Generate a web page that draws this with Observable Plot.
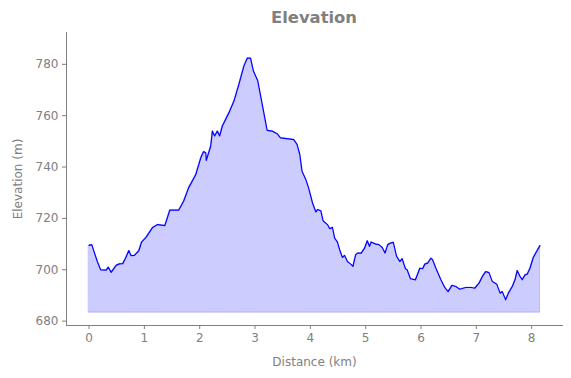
<!DOCTYPE html>
<html><head><meta charset="utf-8">
<script src="https://cdn.jsdelivr.net/npm/d3@7"></script>
<script src="https://cdn.jsdelivr.net/npm/@observablehq/plot@0.6"></script>
<style>
body{margin:0;background:#fff;}
#wrap{position:relative;width:571px;height:378px;font-family:"DejaVu Sans",sans-serif;}
#title{position:absolute;z-index:2;left:66px;width:496px;top:10px;line-height:16px;text-align:center;font-weight:bold;font-size:16.4px;color:#808080;}
</style></head><body><div id="wrap"><div id="title">Elevation</div></div>
<script>
const distanceKm = [0.00,0.05,0.10,0.15,0.21,0.31,0.35,0.40,0.49,0.55,0.61,0.66,0.72,0.76,0.82,0.90,0.95,1.03,1.15,1.24,1.37,1.46,1.62,1.71,1.80,1.93,2.02,2.07,2.11,2.12,2.20,2.23,2.27,2.32,2.36,2.41,2.53,2.62,2.71,2.80,2.86,2.92,2.97,3.05,3.13,3.22,3.31,3.40,3.46,3.64,3.70,3.76,3.81,3.85,3.92,3.97,4.04,4.10,4.13,4.19,4.23,4.31,4.35,4.40,4.44,4.49,4.53,4.58,4.62,4.67,4.73,4.77,4.82,4.86,4.92,4.98,5.03,5.07,5.10,5.18,5.24,5.30,5.35,5.40,5.45,5.50,5.56,5.62,5.66,5.72,5.75,5.81,5.90,5.98,6.03,6.07,6.12,6.18,6.21,6.27,6.36,6.43,6.49,6.56,6.63,6.70,6.81,6.91,6.97,7.05,7.11,7.17,7.23,7.29,7.37,7.43,7.47,7.53,7.58,7.65,7.70,7.74,7.79,7.83,7.88,7.92,7.97,8.03,8.09,8.15];
const elevationM = [709.5,709.8,706.5,703.2,700.0,699.9,701.0,699.0,701.7,702.3,702.4,704.5,707.5,705.5,705.6,707.4,710.8,712.6,716.5,717.6,717.2,723.2,723.2,726.7,731.9,737.1,743.6,746.0,745.6,742.6,748.2,754.0,752.1,754.0,752.1,756.0,761.2,765.7,772.3,779.4,782.4,782.4,777.5,773.6,764.5,754.3,754.0,753.0,751.4,750.9,750.7,748.8,744.9,738.4,735.1,731.8,726.0,722.5,723.4,723.0,719.1,717.6,716.0,716.5,712.3,710.8,707.8,704.8,705.6,703.2,702.2,701.3,705.9,706.5,706.5,708.4,711.3,709.1,710.8,710.0,709.8,708.7,706.5,709.8,710.4,710.7,705.2,703.2,704.3,700.4,700.0,696.5,696.1,700.6,700.4,702.2,702.6,704.5,703.9,700.6,696.1,693.1,691.5,693.9,693.5,692.4,693.1,693.1,692.8,694.8,697.4,699.3,698.9,695.4,694.4,690.9,691.5,688.3,690.9,693.5,696.1,699.7,697.4,696.1,698.0,698.3,700.6,704.8,707.1,709.4];
const xTicks = [0,1,2,3,4,5,6,7,8];
const yTicks = [680,700,720,740,760,780];

const data = distanceKm.map((d, i) => ({d, e: elevationM[i]}));
const eMin = d3.min(elevationM), eMax = d3.max(elevationM), dMax = d3.max(distanceKm);
const baseline = eMin - 5;

const chart = Plot.plot({
  width: 571, height: 378,
  marginLeft: 66, marginRight: 9, marginTop: 32, marginBottom: 53,
  style: {fontFamily: "DejaVu Sans, sans-serif", fontSize: "12px", color: "#808080", background: "white"},
  x: {domain: [-0.05 * dMax, 1.05 * dMax], ticks: xTicks, tickFormat: d3.format("d"), label: "Distance (km)", labelAnchor: "center", labelArrow: "none", labelOffset: 40, tickSize: 4, tickPadding: 4},
  y: {domain: [eMin - 10, eMax + 10], ticks: yTicks, tickFormat: d3.format("d"), label: "Elevation (m)", labelAnchor: "center", labelArrow: "none", labelOffset: 53, tickSize: 4, tickPadding: 4},
  marks: [
    Plot.areaY(data, {x: "d", y1: baseline, y2: "e", fill: "blue", fillOpacity: 0.2, stroke: "blue", strokeOpacity: 0.2, strokeWidth: 1}),
    Plot.lineY(data, {x: "d", y: "e", stroke: "blue", strokeWidth: 1.2}),
    Plot.frame({anchor: "left", stroke: "#808080"}),
    Plot.frame({anchor: "bottom", stroke: "#808080"})
  ]
});
chart.style.position = "absolute";
chart.style.left = "0px";
chart.style.top = "0px";
chart.style.zIndex = "1";
document.getElementById("wrap").appendChild(chart);
</script>
</body></html>
